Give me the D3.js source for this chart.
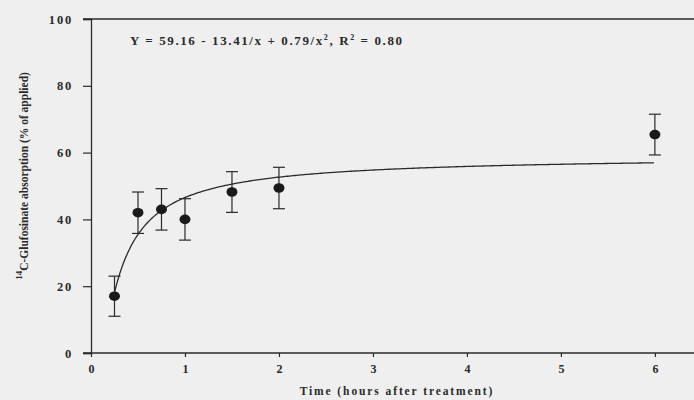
<!DOCTYPE html>
<html lang="en">
<head>
    <meta charset="UTF-8">
    <title>Glufosinate absorption</title>
    <style>
        body { margin: 0; background: #efefef; }
        svg { display: block; font-family: "Liberation Serif", "DejaVu Serif", serif; }
    </style>
</head>
<body>
    <svg id="chart" width="694" height="400"></svg>
    <script src="https://cdn.jsdelivr.net/npm/d3@7/dist/d3.min.js"></script>
    <script>
        // hours after treatment, mean absorption and error (% of applied)
        var times = [0.25, 0.5, 0.75, 1, 1.5, 2, 6];
        var means = [17, 42, 43, 40, 48.2, 49.4, 65.4];
        var errors = [6, 6.2, 6.2, 6.2, 6.1, 6.2, 6.1];
        var xTicks = [0, 1, 2, 3, 4, 5, 6];
        var yTicks = [0, 20, 40, 60, 80, 100];
        // fitted model Y = a + b/x + c/x^2
        var coef = [59.16, -13.41, 0.79];

        var ink = "#2a2a2a";
        var svg = d3.select("#chart");

        var x = d3.scaleLinear().domain([0, 6.48]).range([91, 700]);
        var y = d3.scaleLinear().domain([0, 100]).range([353, 19]);

        // axes
        svg.append("g")
            .attr("transform", "translate(91,0)")
            .call(d3.axisLeft(y).tickValues(yTicks).tickSize(8).tickPadding(10))
            .call(g => g.select(".domain").attr("stroke", ink).attr("stroke-width", 1.3))
            .call(g => g.selectAll(".tick line").attr("stroke", ink).attr("stroke-width", 1.2))
            .call(g => g.selectAll(".tick text")
                .attr("fill", ink).attr("font-size", 12.5).attr("font-weight", "bold")
                .attr("font-family", "Liberation Serif").attr("letter-spacing", 1.8));

        svg.append("g")
            .attr("transform", "translate(0,353)")
            .call(d3.axisBottom(x).tickValues(xTicks).tickFormat(d3.format("d")).tickSize(4).tickPadding(7))
            .call(g => g.select(".domain").remove())
            .call(g => g.selectAll(".tick line").attr("stroke", ink).attr("stroke-width", 1.2))
            .call(g => g.selectAll(".tick text")
                .attr("fill", ink).attr("font-size", 12).attr("font-weight", "bold")
                .attr("font-family", "Liberation Serif"));

        // bottom and top frame lines
        svg.append("line")
            .attr("x1", 83).attr("x2", 694)
            .attr("y1", y(0)).attr("y2", y(0))
            .attr("stroke", ink).attr("stroke-width", 1.4);
        svg.append("line")
            .attr("x1", 83).attr("x2", 694)
            .attr("y1", y(100)).attr("y2", y(100))
            .attr("stroke", ink).attr("stroke-width", 1.4);

        // fitted curve
        var curveX = d3.range(times[0], times[times.length - 1] + 0.001, 0.02);
        svg.append("path")
            .datum(curveX)
            .attr("fill", "none")
            .attr("stroke", ink)
            .attr("stroke-width", 1.3)
            .attr("d", d3.line()
                .x(d => x(d))
                .y(d => y(coef[0] + coef[1] / d + coef[2] / (d * d))));

        // error bars
        var bars = svg.append("g")
            .attr("stroke", ink)
            .attr("stroke-width", 1.2)
            .selectAll("g")
            .data(times)
            .join("g");
        bars.append("line")
            .attr("x1", d => x(d)).attr("x2", d => x(d))
            .attr("y1", (d, i) => y(means[i] - errors[i]))
            .attr("y2", (d, i) => y(means[i] + errors[i]));
        bars.append("line")
            .attr("x1", d => x(d) - 6).attr("x2", d => x(d) + 6)
            .attr("y1", (d, i) => y(means[i] + errors[i]))
            .attr("y2", (d, i) => y(means[i] + errors[i]));
        bars.append("line")
            .attr("x1", d => x(d) - 6).attr("x2", d => x(d) + 6)
            .attr("y1", (d, i) => y(means[i] - errors[i]))
            .attr("y2", (d, i) => y(means[i] - errors[i]));

        // points
        svg.append("g")
            .selectAll("ellipse")
            .data(times)
            .join("ellipse")
            .attr("cx", d => x(d))
            .attr("cy", (d, i) => y(means[i]))
            .attr("rx", 5.5)
            .attr("ry", 4.8)
            .attr("fill", "#1a1a1a");

        // equation
        var eq = svg.append("text")
            .attr("x", 130).attr("y", 45)
            .attr("fill", ink)
            .attr("font-size", 13)
            .attr("font-weight", "bold")
            .attr("letter-spacing", 1.6);
        eq.append("tspan").text("Y = 59.16 - 13.41/x + 0.79/x");
        eq.append("tspan").attr("dy", -5).attr("font-size", 8).text("2");
        eq.append("tspan").attr("dy", 5).text(", R");
        eq.append("tspan").attr("dy", -5).attr("font-size", 8).text("2");
        eq.append("tspan").attr("dy", 5).text(" = 0.80");

        // y axis title
        var yl = svg.append("text")
            .attr("transform", "translate(28,176) rotate(-90)")
            .attr("text-anchor", "middle")
            .attr("fill", ink)
            .attr("font-size", 11.5)
            .attr("font-weight", "bold");
        yl.append("tspan").attr("dy", -6).attr("font-size", 9).text("14");
        yl.append("tspan").attr("dy", 6).text("C-Glufosinate absorption (% of applied)");

        // x axis title
        svg.append("text")
            .attr("x", 397).attr("y", 395)
            .attr("text-anchor", "middle")
            .attr("fill", ink)
            .attr("font-size", 11.5)
            .attr("font-weight", "bold")
            .attr("letter-spacing", 1.9)
            .text("Time (hours after treatment)");
    </script>
</body>
</html>
